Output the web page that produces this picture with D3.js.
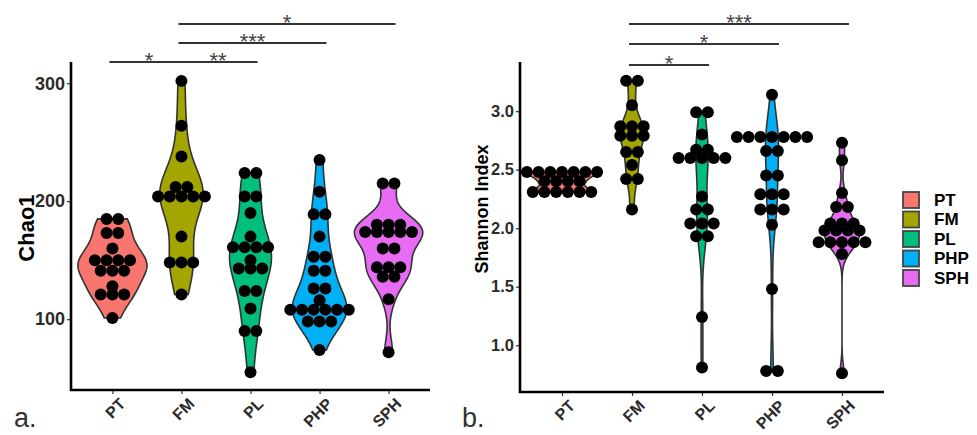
<!DOCTYPE html>
<html>
<head>
<meta charset="utf-8">
<script src="https://cdn.jsdelivr.net/npm/d3@7"></script>
<style>
  body { margin: 0; background: #fff; }
  svg text { font-family: "Liberation Sans", Arial, sans-serif; }
</style>
</head>
<body>
<div id="chart"></div>
<script>
// groups and colours
const groups = ["PT", "FM", "PL", "PHP", "SPH"];
const colors = ["#F8766D", "#A3A500", "#00BF7D", "#00B0F6", "#E76BF3"];

// Chao1 values
const chaoPT = [185,185,173,173,160,150,150,150,150,141,141,141,128,121,121,121,101];
const chaoFM = [302,264,238,212,212,204,204,204,204,204,170,148,148,148,121];
const chaoPL = [224,224,204,204,190,170,161,161,161,161,150,143,143,143,124,124,109,90,90,55];
const chaoPHP = [235,208,189,189,170,153,153,141,141,126,126,116,108,108,108,108,108,108,98,98,98,74];
const chaoSPH = [215,215,180,180,180,174,174,174,174,174,160,160,144,144,144,136,136,117,72];

// Shannon values
const shanPT = [2.48,2.48,2.48,2.48,2.48,2.48,2.48,2.40,2.40,2.40,2.40,2.31,2.31,2.31,2.31,2.31,2.31];
const shanFM = [3.26,3.26,3.05,2.87,2.87,2.87,2.79,2.79,2.79,2.65,2.65,2.54,2.42,2.42,2.16];
const shanPL = [2.99,2.99,2.80,2.67,2.67,2.60,2.60,2.60,2.60,2.60,2.27,2.16,2.16,2.04,2.04,2.04,1.93,1.93,1.24,0.81];
const shanPHP = [3.14,2.78,2.78,2.78,2.78,2.78,2.78,2.78,2.66,2.66,2.45,2.45,2.29,2.29,2.29,2.16,2.16,2.16,2.03,1.48,0.78,0.78];
const shanSPH = [2.73,2.58,2.30,2.18,2.18,2.04,2.04,2.04,1.98,1.98,1.98,1.98,1.88,1.88,1.88,1.88,1.88,1.78,0.76];

const chaoTicks = [100, 200, 300];
const shanTicks = [1.0, 1.5, 2.0, 2.5, 3.0];

// significance brackets: pair, stars, level (0 = lowest)
const chaoSig = [
  {a: "PT", b: "FM", label: "*", level: 0},
  {a: "FM", b: "PL", label: "**", level: 0},
  {a: "FM", b: "PHP", label: "***", level: 1},
  {a: "FM", b: "SPH", label: "*", level: 2}
];
const shanSig = [
  {a: "FM", b: "PL", label: "*", level: 0},
  {a: "FM", b: "PHP", label: "*", level: 1},
  {a: "FM", b: "SPH", label: "***", level: 2}
];

const W = 977, H = 435;
const svg = d3.select("#chart").append("svg")
  .attr("width", W).attr("height", H);

// gaussian kde, R nrd0 bandwidth, trimmed to data range
function kde(vals) {
  const s = vals.slice().sort(d3.ascending);
  const n = s.length;
  const sd = d3.deviation(s);
  const iqr = d3.quantile(s, 0.75) - d3.quantile(s, 0.25);
  let lo = Math.min(sd, iqr / 1.34);
  if (!(lo > 0)) lo = sd;
  const bw = 0.9 * lo * Math.pow(n, -0.2);
  const mn = s[0], mx = s[n - 1];
  const pts = [];
  for (let i = 0; i <= 200; i++) {
    const t = mn + (mx - mn) * i / 200;
    let sum = 0;
    for (const v of s) {
      const z = (t - v) / bw;
      sum += Math.exp(-0.5 * z * z);
    }
    pts.push([t, sum / (n * bw * Math.sqrt(2 * Math.PI))]);
  }
  return pts;
}

function panel(cfg) {
  const g = svg.append("g");
  const x = d3.scalePoint().domain(groups).range([cfg.left, cfg.right]).padding(0.6);
  const y = d3.scaleLinear().domain(cfg.domain).range([cfg.bottom, cfg.top]);
  const step = x.step();

  const dens = cfg.data.map(kde);
  const maxD = d3.max(dens, d => d3.max(d, p => p[1]));
  const wScale = d3.scaleLinear().domain([0, maxD]).range([0, step * 0.5]);

  // violins
  groups.forEach((grp, i) => {
    const cx = x(grp);
    const area = d3.area()
      .y(p => y(p[0]))
      .x0(p => cx - wScale(p[1]))
      .x1(p => cx + wScale(p[1]));
    g.append("path")
      .datum(dens[i])
      .attr("d", area)
      .attr("fill", colors[i])
      .attr("stroke", "#333")
      .attr("stroke-width", 1.6);
  });

  // centred dot stacks
  const dotD = 11.7;
  groups.forEach((grp, i) => {
    const rows = d3.rollups(cfg.data[i], v => v.length, v => v);
    const dots = [];
    rows.forEach(([v, cnt]) => {
      for (let k = 0; k < cnt; k++) dots.push({v, off: (k - (cnt - 1) / 2) * dotD});
    });
    g.append("g").selectAll("circle")
      .data(dots)
      .join("circle")
      .attr("cx", d => x(grp) + d.off)
      .attr("cy", d => y(d.v))
      .attr("r", 6)
      .attr("fill", "#000");
  });

  // y axis
  const ya = g.append("g")
    .attr("transform", `translate(${cfg.left},0)`)
    .call(d3.axisLeft(y).tickValues(cfg.ticks).tickSize(4).tickPadding(2)
      .tickFormat(cfg.fmt));
  ya.select(".domain").remove();
  ya.selectAll(".tick line").attr("stroke", "#333").attr("stroke-width", 1.2);
  ya.selectAll(".tick text")
    .attr("fill", "#2b2b2b").attr("font-weight", "bold")
    .attr("font-size", cfg.tickSize);

  // x axis
  const xa = g.append("g")
    .attr("transform", `translate(0,${cfg.bottom})`)
    .call(d3.axisBottom(x).tickSize(4).tickFormat(""));
  xa.select(".domain").remove();
  xa.selectAll(".tick line").attr("stroke", "#333").attr("stroke-width", 1.2);
  groups.forEach(grp => {
    g.append("text")
      .attr("transform", `translate(${x(grp) + 6},${cfg.bottom + 7}) rotate(-45)`)
      .attr("text-anchor", "end")
      .attr("dy", "0.7em")
      .attr("font-weight", "bold")
      .attr("font-size", 16)
      .attr("fill", "#2b2b2b")
      .text(grp);
  });

  // axis lines
  g.append("path")
    .attr("d", `M${cfg.left},${cfg.top}V${cfg.bottom}H${cfg.right}`)
    .attr("fill", "none")
    .attr("stroke", "#000")
    .attr("stroke-width", 2.6);

  // y title
  g.append("text")
    .attr("transform", `translate(${cfg.titleX},${cfg.titleY}) rotate(-90)`)
    .attr("text-anchor", "middle")
    .attr("font-weight", "bold")
    .attr("font-size", cfg.titleSize)
    .attr("fill", "#000")
    .text(cfg.title);

  // significance brackets
  cfg.sig.forEach(s => {
    const yy = cfg.sigY[s.level];
    g.append("line")
      .attr("x1", x(s.a) - 3).attr("x2", x(s.b) + 7)
      .attr("y1", yy).attr("y2", yy)
      .attr("stroke", "#333").attr("stroke-width", 2.2);
    g.append("text")
      .attr("x", (x(s.a) + x(s.b)) / 2 + 2)
      .attr("y", yy + 6)
      .attr("text-anchor", "middle")
      .attr("font-size", 22)
      .attr("fill", "#444")
      .text(s.label);
  });

  // panel tag
  g.append("text")
    .attr("x", cfg.tagX).attr("y", 427)
    .attr("font-size", 27)
    .attr("fill", "#333")
    .text(cfg.tag);
}

panel({
  left: 71, right: 430, top: 62, bottom: 390,
  domain: [40, 318], ticks: chaoTicks, fmt: d3.format("d"),
  data: [chaoPT, chaoFM, chaoPL, chaoPHP, chaoSPH],
  tickSize: 18, title: "Chao1", titleX: 34, titleY: 228, titleSize: 22,
  sig: chaoSig, sigY: [62, 43, 24], tag: "a.", tagX: 14
});

panel({
  left: 520, right: 884, top: 62, bottom: 392,
  domain: [0.60, 3.42], ticks: shanTicks, fmt: d3.format(".1f"),
  data: [shanPT, shanFM, shanPL, shanPHP, shanSPH],
  tickSize: 16.5, title: "Shannon Index", titleX: 488, titleY: 209, titleSize: 18,
  sig: shanSig, sigY: [65, 44, 24], tag: "b.", tagX: 462
});

// legend
const leg = svg.append("g").attr("transform", "translate(903,192)");
groups.forEach((grp, i) => {
  const row = leg.append("g").attr("transform", `translate(0,${i * 19.5})`);
  row.append("rect")
    .attr("width", 16).attr("height", 16)
    .attr("fill", colors[i])
    .attr("stroke", "#444").attr("stroke-width", 1.8);
  row.append("text")
    .attr("x", 31).attr("y", 8).attr("dy", "0.35em")
    .attr("font-weight", "bold").attr("font-size", 17)
    .attr("fill", "#000")
    .text(grp);
});
</script>
</body>
</html>
